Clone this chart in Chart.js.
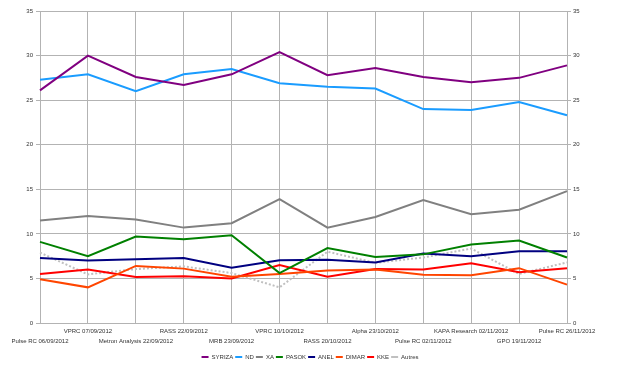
<!DOCTYPE html>
<html>
<head>
<meta charset="utf-8">
<script src="https://cdn.jsdelivr.net/npm/chart.js@4"></script>
<style>
  html, body { margin: 0; padding: 0; background: #fff; }
  #wrap { width: 620px; height: 374px; }
</style>
</head>
<body>
<div id="wrap"><canvas id="myChart"></canvas></div>
<script>
  // poll labels, in order
  const polls = [
    "Pulse RC 06/09/2012", "VPRC 07/09/2012", "Metron Analysis 22/09/2012",
    "RASS 22/09/2012", "MRB 23/09/2012", "VPRC 10/10/2012", "RASS 20/10/2012",
    "Alpha 23/10/2012", "Pulse RC 02/11/2012", "KAPA Research 02/11/2012",
    "GPO 19/11/2012", "Pulse RC 26/11/2012",
  ];

  const syriza = [26.1, 30.0, 27.6, 26.7, 27.9, 30.4, 27.8, 28.6, 27.6, 27.0, 27.5, 28.9];
  const nd     = [27.3, 27.9, 26.0, 27.9, 28.5, 26.9, 26.5, 26.3, 24.0, 23.9, 24.8, 23.3];
  const xa     = [11.5, 12.0, 11.6, 10.7, 11.2, 13.9, 10.7, 11.9, 13.8, 12.2, 12.7, 14.8];
  const pasok  = [9.1, 7.5, 9.7, 9.4, 9.85, 5.6, 8.4, 7.4, 7.7, 8.8, 9.25, 7.35];
  const anel   = [7.3, 7.0, 7.15, 7.3, 6.2, 7.05, 7.1, 6.8, 7.8, 7.5, 8.05, 8.05];
  const dimar  = [4.9, 4.0, 6.4, 6.1, 5.2, 5.5, 5.9, 6.0, 5.4, 5.35, 6.15, 4.3];
  const kke    = [5.5, 6.0, 5.15, 5.25, 5.0, 6.5, 5.2, 6.05, 6.0, 6.7, 5.7, 6.15];
  const autres = [7.9, 5.45, 6.05, 6.35, 5.6, 4.0, 8.0, 6.75, 7.35, 8.35, 5.5, 6.8];

  const yTicks = [0, 5, 10, 15, 20, 25, 30, 35];

  function series(label, data, color, dash) {
    return {
      label: label,
      data: data,
      borderColor: color,
      backgroundColor: color,
      borderWidth: 2,
      borderDash: dash || [],
      pointRadius: 0,
      pointStyle: "line",
      tension: 0,
      fill: false,
    };
  }

  const gridColor = "#b3b3b3";
  const textColor = "#333";

  Chart.defaults.font.family = "'Liberation Sans', Arial, sans-serif";
  Chart.defaults.font.size = 6;
  Chart.defaults.color = textColor;

  const ctx = document.getElementById("myChart").getContext("2d");
  new Chart(ctx, {
    type: "line",
    data: {
      labels: polls,
      datasets: [
        series("SYRIZA", syriza, "#800080"),
        series("ND", nd, "#1a9cff"),
        series("XA", xa, "#808080"),
        series("PASOK", pasok, "#008000"),
        series("ANEL", anel, "#000080"),
        series("DIMAR", dimar, "#ff4500"),
        series("KKE", kke, "#ff0000"),
        series("Autres", autres, "#c0c0c0", [2, 2]),
      ],
    },
    options: {
      responsive: true,
      maintainAspectRatio: false,
      animation: false,
      layout: { padding: { top: 11, left: 0, right: 0, bottom: 4 } },
      plugins: {
        tooltip: { enabled: false },
        legend: {
          position: "bottom",
          labels: {
            usePointStyle: true,
            pointStyleWidth: 7,
            boxHeight: 6,
            padding: 2,
            color: textColor,
            font: { size: 6 },
          },
        },
      },
      scales: {
        x: {
          grid: { color: gridColor, tickLength: 0 },
          border: { color: gridColor },
          ticks: {
            autoSkip: false,
            maxRotation: 0,
            minRotation: 0,
            padding: 3.5,
            font: { size: 6, lineHeight: 1.667 },
            callback: function (val, i) {
              let name = this.getLabelForValue(val);
              return i % 2 ? [name] : ["", name];
            },
          },
          afterFit: function (scale) { scale.height = 29; },
        },
        y: {
          position: "left",
          min: 0,
          max: 35,
          afterBuildTicks: function (scale) {
            scale.ticks = yTicks.map(v => ({ value: v }));
          },
          grid: { color: gridColor, tickLength: 4 },
          border: { color: gridColor },
          ticks: { padding: 3 },
          afterFit: function (scale) { scale.width = 40; },
        },
        y2: {
          position: "right",
          min: 0,
          max: 35,
          afterBuildTicks: function (scale) {
            scale.ticks = yTicks.map(v => ({ value: v }));
          },
          grid: { drawOnChartArea: false, color: gridColor, tickLength: 4 },
          border: { color: gridColor },
          ticks: { padding: 2 },
          afterFit: function (scale) { scale.width = 53; },
        },
      },
    },
  });
</script>
</body>
</html>
